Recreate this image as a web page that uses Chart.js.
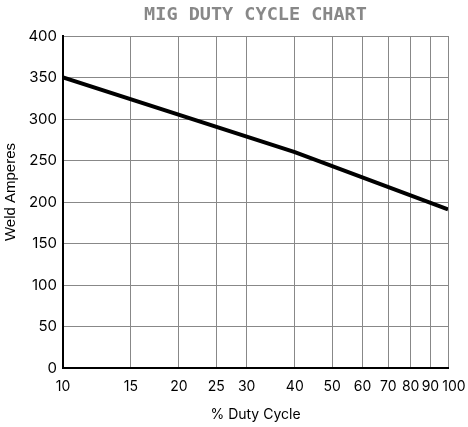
<!DOCTYPE html>
<html><head><meta charset="utf-8">
<script src="https://cdn.jsdelivr.net/npm/chart.js@4"></script>
<style>html,body{margin:0;padding:0;background:#fff}#w{width:468px;height:427px}</style>
</head><body><div id="w"><canvas id="c"></canvas></div>
<script>
const dutyCycle = [10, 40, 100];
const weldAmperes = [350, 260, 191];
const xTickValues = [10, 15, 20, 25, 30, 40, 50, 60, 70, 80, 90, 100];
const yTickValues = [0, 50, 100, 150, 200, 250, 300, 350, 400];
const chartTitle = 'MIG DUTY CYCLE CHART';
const yTitle = 'Weld Amperes';

const textPlugin = {
  id: 'texts',
  afterDraw(chart) {
    const ctx = chart.ctx, a = chart.chartArea;
    ctx.save();
    ctx.fillStyle = '#888';
    ctx.font = 'bold 18.5px "DejaVu Sans Mono"';
    ctx.textAlign = 'center';
    ctx.textBaseline = 'middle';
    ctx.fillText(chartTitle, (a.left + a.right) / 2, 15);
    ctx.fillStyle = '#000';
    ctx.font = '15px "Liberation Sans"';
    ctx.translate(11, 192);
    ctx.rotate(-Math.PI / 2);
    ctx.fillText(yTitle, 0, 0);
    ctx.restore();
  }
};

new Chart(document.getElementById('c'), {
  type: 'line',
  data: { datasets: [{ data: dutyCycle.map((x, i) => ({ x, y: weldAmperes[i] })), borderColor: '#000', borderWidth: 4, pointRadius: 0, tension: 0 }] },
  plugins: [textPlugin],
  options: {
    responsive: true, maintainAspectRatio: false, animation: false,
    layout: { padding: { left: 0, right: 20, top: 36, bottom: 0 } },
    plugins: { legend: { display: false }, tooltip: { enabled: false }, title: { display: false } },
    scales: {
      x: {
        type: 'logarithmic', min: 10, max: 100,
        afterBuildTicks: s => { s.ticks = xTickValues.map(v => ({ value: v })); },
        afterFit: s => { s.height = 59; s.paddingLeft = 0; s.paddingRight = 0; },
        ticks: { callback: v => (v === 100 ? '   ' : '') + String(v), color: '#000', font: { family: 'Inter', size: 14 }, maxRotation: 0, autoSkip: false, padding: 10 },
        grid: { color: '#888', lineWidth: 1, drawTicks: false },
        border: { color: '#000', width: 2 },
        title: { display: true, text: '% Duty Cycle', color: '#000', font: { family: 'Inter', size: 14 }, padding: { top: 10 } }
      },
      y: {
        min: 0, max: 400,
        afterBuildTicks: s => { s.ticks = yTickValues.map(v => ({ value: v })); },
        afterFit: s => { s.width = 63; },
        ticks: { color: '#000', font: { family: 'Inter', size: 15 }, padding: 6 },
        grid: { color: '#888', lineWidth: 1, drawTicks: false },
        border: { color: '#000', width: 2 }
      }
    }
  }
});
</script></body></html>
